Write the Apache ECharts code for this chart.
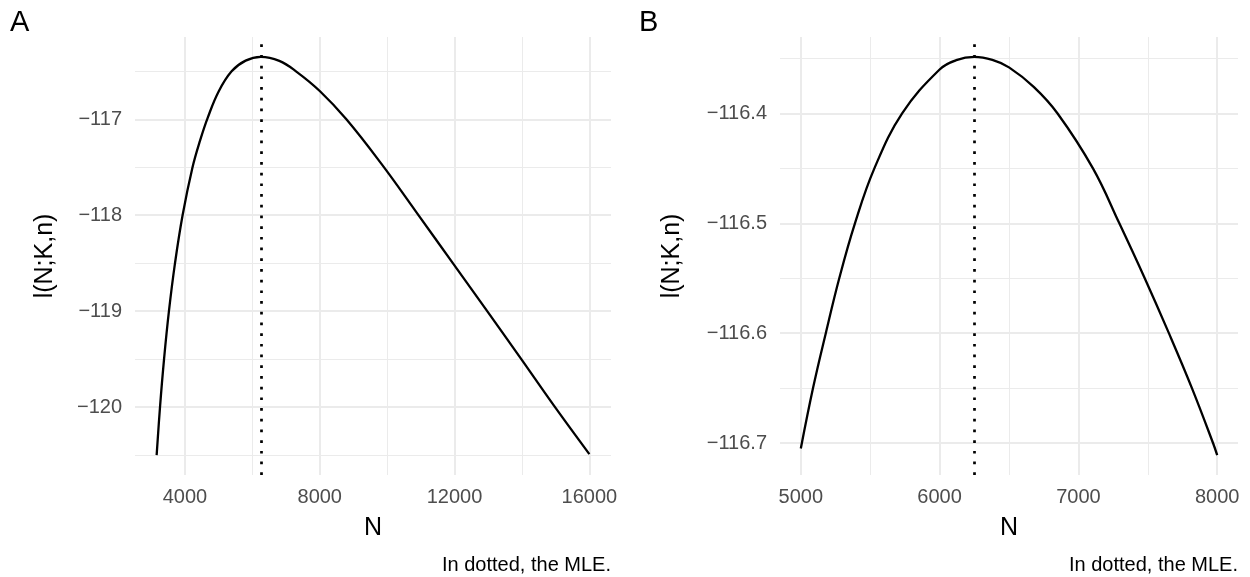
<!DOCTYPE html>
<html>
<head>
<meta charset="utf-8">
<script src="https://cdn.jsdelivr.net/npm/echarts@6/dist/echarts.min.js"></script>
<style>
html, body { margin: 0; padding: 0; background: #fff; }
#main { width: 1250px; height: 577px; }
</style>
</head>
<body>
<div id="main"></div>
<script>
// panel A: log-likelihood over a wide range of N
var nA = [3160, 3260, 3380, 3525, 3705, 3930, 4225, 4450, 4680, 5000, 5385, 5800, 6250, 6800, 7295, 8000, 8790, 9820, 10870, 11970, 12990, 13980, 14960, 16000];
var lA = [-120.50, -120.0, -119.5, -119.0, -118.5, -118.0, -117.5, -117.22, -116.98, -116.71, -116.5, -116.389, -116.35, -116.392, -116.5, -116.705, -117.0, -117.46, -117.97, -118.51, -119.01, -119.5, -119.99, -120.49];

// panel B: zoom around the MLE
var nB = [5000, 5088, 5180, 5277, 5390, 5530, 5730, 6000, 6120, 6250, 6380, 6500, 6680, 6850, 7105, 7295, 7478, 7652, 7818, 7970, 8000];
var lB = [-116.705, -116.65, -116.60, -116.55, -116.50, -116.45, -116.40, -116.360, -116.3515, -116.3485, -116.3512, -116.358, -116.376, -116.40, -116.45, -116.50, -116.55, -116.60, -116.65, -116.70, -116.711];

var mle = 6250;

// tick values
var ticksXA = [4000, 8000, 12000, 16000];
var minorXA = [6000, 10000, 14000];
var ticksYA = [-120, -119, -118, -117];
var minorYA = [-120.5, -119.5, -118.5, -117.5, -116.5];
var ticksXB = [5000, 6000, 7000, 8000];
var minorXB = [5500, 6500, 7500];
var ticksYB = [-116.7, -116.6, -116.5, -116.4];
var minorYB = [-116.65, -116.55, -116.45, -116.35];

var FONT = 'Liberation Sans';
var GRIDCOL = '#EBEBEB';

function expand(arr) {
    var lo = Math.min.apply(null, arr), hi = Math.max.apply(null, arr);
    var d = (hi - lo) * 0.05;
    return [lo - d, hi + d];
}

function pairs(xs, ys) {
    return xs.map(function (x, i) { return [x, ys[i]]; });
}

function minus(s) { return s.replace('-', '\u2212'); }

// one axis with labels + major grid, another one only for minor grid
function majorAxis(dim, grid, range, ticks, fmt, name, nameGap) {
    var o = {
        type: 'value', gridIndex: grid, min: range[0], max: range[1],
        axisLine: { show: false },
        axisTick: { show: false, customValues: ticks },
        axisLabel: {
            customValues: ticks, color: '#4D4D4D', fontFamily: FONT, fontSize: 20,
            margin: dim === 'x' ? 12 : 13,
            formatter: fmt
        },
        splitLine: { show: true, lineStyle: { color: GRIDCOL, width: 2 } },
        name: name, nameLocation: 'middle', nameGap: nameGap,
        nameTextStyle: { color: '#000', fontFamily: FONT, fontSize: 25 }
    };
    if (dim === 'y') o.nameRotate = 90;
    return o;
}
function minorAxis(grid, range, ticks) {
    return {
        type: 'value', gridIndex: grid, min: range[0], max: range[1],
        axisLine: { show: false },
        axisTick: { show: false, customValues: ticks },
        axisLabel: { show: false, customValues: ticks },
        splitLine: { show: true, lineStyle: { color: GRIDCOL, width: 1 } }
    };
}

var xrA = expand(nA), yrA = expand(lA);
var xrB = expand(nB), yrB = expand(lB);

var fmtA = function (v) { return minus(v.toFixed(0)); };
var fmtB = function (v) { return minus(v.toFixed(1)); };
var fmtX = function (v) { return v.toFixed(0); };

function mleLine() {
    return {
        silent: true, symbol: 'none', label: { show: false },
        lineStyle: { color: '#000', type: [2.7, 8], width: 2.7, cap: 'butt' },
        data: [{ xAxis: mle }]
    };
}

var chart = echarts.init(document.getElementById('main'), null, { renderer: 'canvas' });
var option = {
    animation: false,
    backgroundColor: '#fff',
    title: [
        { text: 'A', left: 10, top: 8, padding: 0, textStyle: { fontFamily: FONT, fontSize: 29, fontWeight: 'normal', color: '#000' } },
        { text: 'B', left: 639, top: 8, padding: 0, textStyle: { fontFamily: FONT, fontSize: 29, fontWeight: 'normal', color: '#000' } },
        { text: 'In dotted, the MLE.', right: 639, top: 555, padding: 0, textStyle: { fontFamily: FONT, fontSize: 20, fontWeight: 'normal', color: '#000' } },
        { text: 'In dotted, the MLE.', right: 12, top: 555, padding: 0, textStyle: { fontFamily: FONT, fontSize: 20, fontWeight: 'normal', color: '#000' } }
    ],
    grid: [
        { left: 135, right: 639, top: 37, bottom: 102 },
        { left: 780, right: 12, top: 37, bottom: 102 }
    ],
    xAxis: [
        majorAxis('x', 0, xrA, ticksXA, fmtX, 'N', 41),
        minorAxis(0, xrA, minorXA),
        majorAxis('x', 1, xrB, ticksXB, fmtX, 'N', 41),
        minorAxis(1, xrB, minorXB)
    ],
    yAxis: [
        majorAxis('y', 0, yrA, ticksYA, fmtA, 'l(N;K,n)', 77),
        minorAxis(0, yrA, minorYA),
        majorAxis('y', 1, yrB, ticksYB, fmtB, 'l(N;K,n)', 95),
        minorAxis(1, yrB, minorYB)
    ],
    series: [
        {
            type: 'line', xAxisIndex: 0, yAxisIndex: 0,
            data: pairs(nA, lA), smooth: 0.4, showSymbol: false,
            lineStyle: { color: '#000', width: 2.3 },
            markLine: mleLine()
        },
        {
            type: 'line', xAxisIndex: 2, yAxisIndex: 2,
            data: pairs(nB, lB), smooth: 0.4, showSymbol: false,
            lineStyle: { color: '#000', width: 2.3 },
            markLine: mleLine()
        }
    ]
};
chart.setOption(option);
</script>
</body>
</html>
